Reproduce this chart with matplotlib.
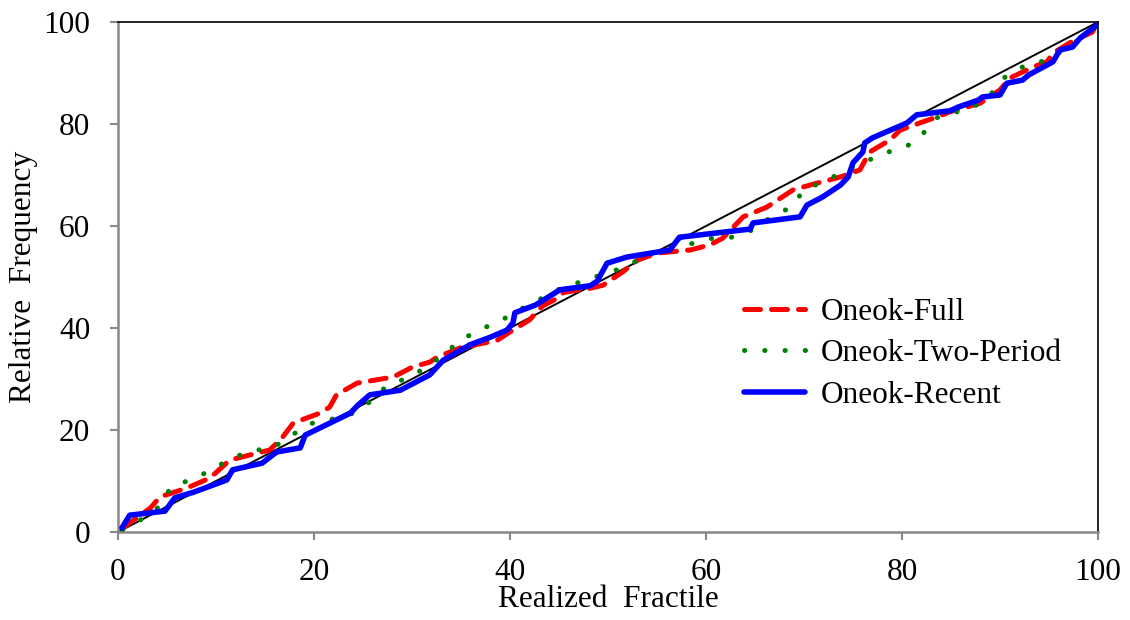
import matplotlib
matplotlib.use("Agg")
import matplotlib.pyplot as plt

# Oneok-Full
full_x = [0.5, 3.3, 4.3, 7.0, 9.4, 11.4, 15.5, 16.8, 17.9, 20.6, 21.6, 22.3, 24.4, 28.1, 30.1, 31.8,
          32.6, 34.9, 38.7, 40.3, 42.0, 43.3, 44.5, 45.5, 48.2, 49.5, 51.5, 53.0, 55.0, 58.4, 60.4,
          61.7, 63.8, 66.2, 68.9, 71.3, 73.7, 75.7, 76.7, 78.8, 79.8, 81.8, 83.6, 84.9, 88.0, 90.0,
          91.0, 93.4, 94.8, 95.4, 97.1, 98.4, 99.4, 99.8]
full_y = [0.8, 4.7, 6.9, 8.6, 10.6, 14.1, 16.1, 18.6, 21.4, 23.3, 24.5, 26.9, 29.2, 30.4, 32.4, 33.3,
          34.3, 36.1, 37.6, 39.6, 41.6, 44.3, 45.5, 47.0, 47.8, 48.4, 51.0, 53.3, 54.7, 55.3, 56.3,
          57.6, 61.8, 63.7, 67.1, 68.4, 69.6, 71.0, 74.5, 76.9, 78.8, 80.2, 81.4, 82.4, 84.1, 86.7,
          89.0, 91.2, 92.2, 93.9, 95.9, 97.1, 98.0, 99.2]

# Oneok-Two-Period
two_x = [0.5, 2.6, 4.3, 5.4, 7.6, 9.6, 11.4, 13.6, 15.8, 17.6, 19.5, 21.6, 24.0, 25.7, 27.4, 29.5,
         31.6, 33.4, 35.1, 37.1, 39.2, 41.1, 43.1, 44.9, 47.1, 51.5, 55.6, 58.1, 60.2, 62.6, 64.7,
         66.7, 68.7, 70.0, 72.1, 74.2, 78.2, 80.4, 82.0, 83.5, 85.6, 87.6, 89.3, 90.6, 92.7, 94.8,
         98.5, 100.0]
two_y = [0.5, 2.7, 5.1, 8.8, 10.4, 12.2, 14.3, 15.9, 16.5, 18.8, 21.2, 22.0, 23.3, 25.5, 28.6, 30.2,
         32.4, 35.1, 37.8, 39.8, 41.6, 43.7, 45.7, 47.5, 49.0, 51.8, 55.7, 56.3, 57.5, 57.8, 59.2,
         61.8, 63.7, 67.1, 68.8, 70.8, 74.3, 75.5, 77.8, 81.2, 82.4, 83.7, 86.3, 89.4, 91.6, 92.5,
         97.1, 99.5]

# Oneok-Recent
recent_x = [0.4, 1.2, 4.8, 5.8, 7.7, 11.1, 11.7, 14.7, 16.2, 18.6, 19.1, 23.7, 24.5, 25.7, 28.8,
            31.8, 33.2, 35.9, 38.0, 39.7, 40.3, 40.5, 42.6, 45.1, 48.2, 48.9, 49.9, 51.9, 56.3,
            57.3, 64.5, 64.8, 69.6, 70.3, 71.9, 73.7, 74.5, 75.0, 76.0, 76.2, 77.0, 80.5, 81.5,
            84.9, 85.7, 87.8, 88.2, 90.0, 90.7, 92.3, 92.9, 95.4, 96.1, 97.4, 98.2, 99.9]
recent_y = [0.8, 3.3, 4.1, 6.7, 7.8, 10.2, 12.2, 13.5, 15.7, 16.5, 19.0, 23.3, 24.9, 26.9, 27.8,
            30.8, 33.7, 36.7, 38.2, 39.6, 41.0, 43.0, 44.5, 47.5, 48.3, 49.2, 52.7, 53.9, 55.3,
            57.8, 59.4, 60.6, 61.8, 64.1, 65.7, 68.0, 69.6, 72.4, 74.5, 76.3, 77.3, 80.2, 81.8,
            82.6, 83.3, 84.7, 85.3, 85.7, 88.0, 88.6, 89.6, 92.2, 94.5, 95.1, 96.9, 99.4]

diag = [0, 100]
ticks = [0, 20, 40, 60, 80, 100]

plt.rcParams['font.family'] = ['Liberation Serif', 'DejaVu Serif']

fig = plt.figure(figsize=(11.3, 6.2), dpi=100)
ax = fig.add_axes([0.1044, 0.1419, 0.8673, 0.8226])

ax.plot(diag, diag, color='black', lw=1.4, zorder=1)
ax.plot(full_x, full_y, color='#ff0000', lw=3.6, linestyle=(0, (3.2, 2.2)),
        dash_capstyle='round', label='Oneok-Full', zorder=2)
ax.plot(two_x, two_y, color='#008000', lw=3.6, linestyle=(0, (0.05, 4.0)),
        dash_capstyle='round', label='Oneok-Two-Period', zorder=3)
ax.plot(recent_x, recent_y, color='#0000ff', lw=4.0, solid_joinstyle='round',
        solid_capstyle='round', label='Oneok-Recent', zorder=4)

ax.set_xlim(0, 100)
ax.set_ylim(0, 100)
ax.set_xticks(ticks)
ax.set_yticks(ticks)
ax.tick_params(direction='out', length=6, width=1.5, color='#888888', labelsize=22.5)
ax.tick_params(axis='y', pad=14)
ax.tick_params(axis='x', pad=13)

for side in ['left', 'bottom']:
    ax.spines[side].set_color('#888888')
    ax.spines[side].set_linewidth(1.8)
for side in ['top', 'right']:
    ax.spines[side].set_color('black')
    ax.spines[side].set_linewidth(1.2)

ax.set_xlabel('Realized  Fractile', fontsize=22.5, labelpad=-2)
ax.set_ylabel('Relative  Frequency', fontsize=22.5, labelpad=4)

ax.legend(loc='center left', bbox_to_anchor=(0.61, 0.35), frameon=False, fontsize=22.5,
          handlelength=1.95, handletextpad=0.5, labelspacing=0.4)

fig.savefig('out.png', dpi=100)
